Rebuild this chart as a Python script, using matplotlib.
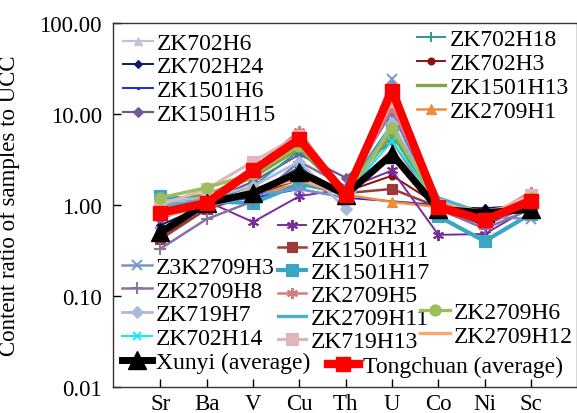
import matplotlib
matplotlib.use("Agg")
import matplotlib.pyplot as plt
import numpy as np

plt.rcParams['font.family'] = ['Liberation Serif', 'DejaVu Serif']

elements = ['Sr', 'Ba', 'V', 'Cu', 'Th', 'U', 'Co', 'Ni', 'Sc']

ZK702H6   = [1.00, 1.30, 2.20, 6.00, 1.40, 22.0, 1.10, 0.75, 1.20]
ZK702H24  = [0.60, 1.00, 1.30, 2.60, 1.30, 3.50, 0.95, 0.92, 1.00]
ZK1501H6  = [0.75, 1.05, 1.20, 1.50, 1.20, 1.10, 1.00, 0.85, 1.00]
ZK1501H15 = [0.70, 1.10, 1.80, 3.60, 2.00, 5.00, 0.90, 0.60, 1.00]
ZK702H18  = [0.80, 1.10, 1.60, 4.00, 1.30, 6.50, 1.00, 0.75, 1.00]
ZK702H3   = [0.45, 0.90, 1.40, 2.00, 1.40, 2.10, 1.00, 0.80, 1.00]
ZK1501H13 = [1.10, 1.30, 2.00, 4.20, 1.30, 6.00, 1.00, 0.70, 1.10]
ZK2709H1  = [0.80, 1.00, 1.30, 1.70, 1.30, 1.08, 0.95, 0.85, 1.00]
ZK702H32  = [0.45, 1.10, 0.65, 1.25, 1.50, 2.40, 0.47, 0.48, 0.95]
ZK1501H11 = [0.42, 0.90, 1.30, 1.90, 1.35, 1.50, 0.95, 0.80, 1.05]
ZK1501H17 = [1.25, 1.10, 1.05, 1.70, 1.40, 7.50, 0.75, 0.40, 0.80]
Z3K2709H3 = [0.50, 0.95, 1.30, 1.50, 1.20, 24.0, 0.90, 0.75, 0.70]
ZK2709H8  = [0.33, 0.70, 1.10, 3.00, 1.60, 10.5, 0.90, 0.55, 0.90]
ZK719H7   = [1.10, 1.20, 1.60, 3.00, 0.90, 8.00, 1.00, 0.70, 1.10]
ZK702H14  = [0.90, 1.10, 1.40, 2.50, 1.30, 5.00, 1.00, 0.80, 1.00]
ZK2709H5  = [0.90, 1.20, 2.50, 6.50, 1.30, 12.0, 1.10, 0.70, 1.40]
ZK2709H11 = [1.00, 1.10, 2.20, 5.00, 1.40, 15.0, 1.20, 0.80, 1.10]
ZK719H13  = [1.00, 1.50, 3.00, 5.80, 1.35, 14.0, 1.00, 0.75, 1.30]
ZK2709H6  = [1.20, 1.55, 2.20, 4.50, 1.30, 7.00, 1.00, 0.70, 1.20]
ZK2709H12 = [0.75, 0.95, 1.50, 1.90, 1.30, 4.00, 1.00, 0.85, 1.05]
Xunyi     = [0.50, 1.05, 1.35, 2.30, 1.30, 3.60, 0.90, 0.82, 0.90]
Tongchuan = [0.82, 1.05, 2.40, 5.30, 1.30, 18.0, 0.95, 0.68, 1.12]

yticks = [0.01, 0.1, 1, 10, 100]
ylabel = 'Content ratio of samples to UCC'

AST = (6, 2, 0)
# name, data, color, marker, markersize, linewidth
series = [
    ('ZK702H6',   ZK702H6,   '#C9BEDA', '^', 6, 1.6),
    ('ZK702H24',  ZK702H24,  '#0A1A6E', 'D', 4, 1.4),
    ('ZK1501H6',  ZK1501H6,  '#1E2BE0', 's', 2, 1.4),
    ('ZK1501H15', ZK1501H15, '#6F5C92', 'D', 5, 1.6),
    ('ZK702H18',  ZK702H18,  '#2A9A96', '+', 7, 1.4),
    ('ZK702H3',   ZK702H3,   '#8A1010', 'o', 5, 1.4),
    ('ZK1501H13', ZK1501H13, '#7DA545', None, 0, 2.4),
    ('ZK2709H1',  ZK2709H1,  '#EE8C3A', '^', 7, 1.8),
    ('ZK702H32',  ZK702H32,  '#7A2C9C', AST, 8, 1.4),
    ('ZK1501H11', ZK1501H11, '#9A3A3A', 's', 7, 1.8),
    ('ZK1501H17', ZK1501H17, '#3AA6C2', 's', 8, 3.0),
    ('Z3K2709H3', Z3K2709H3, '#7A95C8', 'x', 7, 1.8),
    ('ZK2709H8',  ZK2709H8,  '#8A70A8', '+', 8, 1.8),
    ('ZK719H7',   ZK719H7,   '#A9BADC', 'D', 6, 2.0),
    ('ZK702H14',  ZK702H14,  '#10E8F8', 'x', 6, 1.4),
    ('ZK2709H5',  ZK2709H5,  '#D87C7A', AST, 8, 1.8),
    ('ZK2709H11', ZK2709H11, '#4EAFC8', None, 0, 2.4),
    ('ZK719H13',  ZK719H13,  '#E2B6B6', 's', 8, 2.2),
    ('ZK2709H6',  ZK2709H6,  '#9DBE5C', 'o', 8, 2.4),
    ('ZK2709H12', ZK2709H12, '#F8A870', None, 0, 2.4),
]

W, H = 577, 414
fig = plt.figure(figsize=(W / 100, H / 100), dpi=100)
ax = fig.add_axes([113 / W, 1 - 388 / H, (576.5 - 113) / W, (388 - 24) / H])

x = np.arange(len(elements))
handles = {}
for name, data, col, mk, ms, lw in series:
    ln, = ax.plot(x, data, color=col, marker=mk, markersize=ms, linewidth=lw,
                  markeredgewidth=1.4 if mk in ('+', 'x', AST) else 0.8, label=name, zorder=2)
    handles[name] = ln
ln, = ax.plot(x, Xunyi, color='black', marker='^', markersize=13, linewidth=5, label='Xunyi (average)', zorder=4)
handles['Xunyi (average)'] = ln
ln, = ax.plot(x, Tongchuan, color='#FF0000', marker='s', markersize=10, linewidth=6, label='Tongchuan (average)', zorder=5)
handles['Tongchuan (average)'] = ln

ax.set_yscale('log')
ax.set_ylim(0.01, 100)
ax.set_xlim(-1.02, 8.98)
ax.set_yticks(yticks)
ax.set_yticklabels(['%.2f' % v for v in yticks])
ax.yaxis.set_minor_locator(matplotlib.ticker.NullLocator())
ax.set_xticks(x)
ax.set_xticklabels(elements)
ax.tick_params(axis='both', direction='in', length=6, width=1.0, labelsize=16.5, colors='black')
ax.tick_params(axis='x', pad=4)
ax.tick_params(axis='y', pad=8)
for sp in ax.spines.values():
    sp.set_linewidth(1.0)
    sp.set_color('#333333')
ax.set_ylabel(ylabel, fontsize=16.5)
ax.yaxis.set_label_coords(-(113 - 20) / (576.5 - 113), 0.5)

groups = [
    (['ZK702H6', 'ZK702H24', 'ZK1501H6', 'ZK1501H15'], 123, 44, 23.7, 1.25),
    (['ZK702H18', 'ZK702H3', 'ZK1501H13', 'ZK2709H1'], 417, 40, 24.0, 1.2),
    (['ZK702H32', 'ZK1501H11', 'ZK1501H17', 'ZK2709H5', 'ZK2709H11', 'ZK719H13'], 278, 228, 22.8, 1.2),
    (['Z3K2709H3', 'ZK2709H8', 'ZK719H7', 'ZK702H14', 'Xunyi (average)'], 122, 268, 23.8, 1.25),
    (['Tongchuan (average)'], 328, 367, 24.0, 1.3),
    (['ZK2709H6', 'ZK2709H12'], 420, 313, 24.0, 1.25),
]
for names, hx, hy, pitch, hl in groups:
    for i, nm in enumerate(names):
        yy = hy + i * pitch
        fig.legend(handles=[handles[nm]], labels=[nm], loc='center left',
                   bbox_to_anchor=(hx / W, 1 - yy / H), bbox_transform=fig.transFigure,
                   frameon=False, borderpad=0, borderaxespad=0, handlelength=hl,
                   handletextpad=0.2, fontsize=17, markerscale=1.0)

fig.savefig('out.png', dpi=100)
